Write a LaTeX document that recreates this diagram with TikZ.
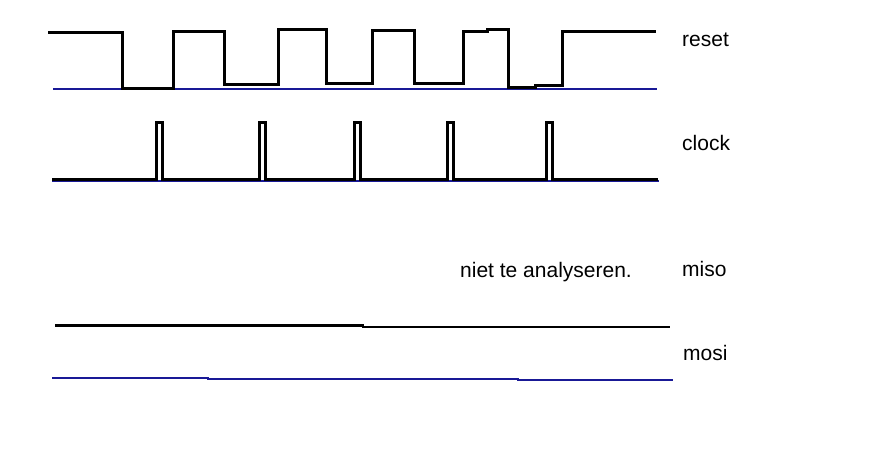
\documentclass[tikz,border=0pt]{standalone}
\usepackage{fontspec}
\setmainfont{Liberation Sans}
\usetikzlibrary{positioning}
\definecolor{wireblue}{RGB}{25,25,150}
\tikzset{
    x=1pt, y=-1pt,
    signal/.style={line width=3pt, line join=miter, black},
    wire/.style={line width=1.2pt, wireblue},
    sig/.style={anchor=base west, inner sep=0pt, font=\fontsize{21}{25}\selectfont}
}
\begin{document}
\begin{tikzpicture}
    \useasboundingbox[fill=white] (0,0) rectangle (882,471);

    \node[sig] (reset) at (682,46)  {reset};
    \node[sig] (clock) at (682,150) {clock};
    \node[sig] (miso)  at (682,276) {miso};
    \node[sig] (mosi)  at (683,360) {mosi};
    \node[sig] (note)  at (460,277) {niet te analyseren.};

    % reset
    \draw[wire] (53,89) -- (657,89);
    \draw[signal] (48,32) -| (122,88) -| (173,31) -| (224,84) -| (278,29) -| (326,83)
                  -| (372,30) -| (414,83) -| (463,31) -- (487,31) -- (487,29.5) -| (508,87)
                  -- (535,87) -- (535,85.5) -| (562,31) -- (656,31);

    % clock
    \draw[wire] (52,181) -- (659,181);
    \draw[signal] (52,179) foreach \c in {159,262,357,450,549} {
                      -- ({\c-3},179) |- ({\c+3},122) -- ({\c+3},179)
                  } -- (658,179);

    % miso
    \draw[signal, line width=2.8pt] (55,325.5) -- (363,325.5) -- (363,327) -- (670,327);

    % mosi
    \draw[wire] (52,378) -- (208,378) -- (208,379) -- (518,379) -- (518,380) -- (673,380);
\end{tikzpicture}
\end{document}
